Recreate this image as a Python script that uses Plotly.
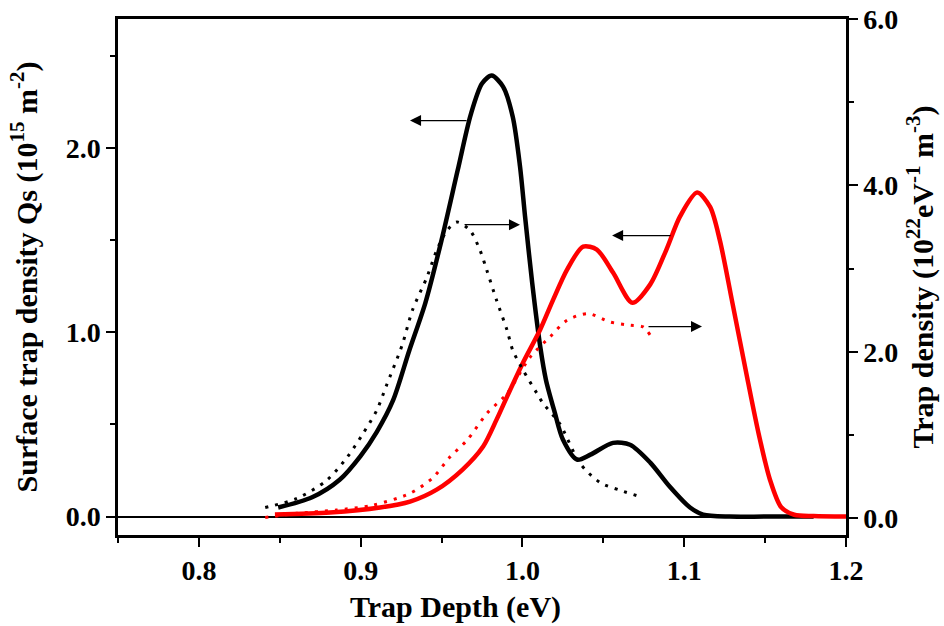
import plotly.graph_objects as go

# Black solid: surface trap density Qs (left axis)
qs_black_x = [0.849, 0.870, 0.887, 0.900, 0.910, 0.920, 0.930, 0.940, 0.950, 0.960, 0.968,
              0.975, 0.981, 0.988, 0.994, 0.9985, 1.0016, 1.006, 1.011, 1.0145, 1.020, 1.025, 1.0338,
              1.042, 1.056, 1.0665, 1.079, 1.091, 1.1036, 1.1117, 1.128, 1.15, 1.18]
qs_black_y = [0.049, 0.105, 0.20, 0.33, 0.46, 0.63, 0.90, 1.16, 1.50, 1.88, 2.18,
              2.35, 2.393, 2.333, 2.17, 1.90, 1.63, 1.27, 0.922, 0.743, 0.564, 0.418, 0.309,
              0.336, 0.40, 0.39, 0.293, 0.163, 0.049, 0.011, 0.0, 0.0, 0.0]

# Black dotted: trap density (right axis)
td_black_x = [0.841, 0.8607, 0.879, 0.8916, 0.9015, 0.910, 0.916, 0.9256, 0.932, 0.941, 0.947, 0.9534,
              0.9596, 0.9676, 0.9738, 0.978, 0.984, 0.9905, 0.994, 1.0004, 1.009, 1.0128, 1.023,
              1.0356, 1.048, 1.060, 1.0746]
td_black_y = [0.13, 0.24, 0.457, 0.733, 1.02, 1.30, 1.60, 2.08, 2.50, 2.90, 3.22, 3.46,
              3.56, 3.46, 3.22, 2.98, 2.62, 2.26, 2.02, 1.78, 1.50, 1.38, 1.14,
              0.66, 0.43, 0.34, 0.25]

# Red solid: surface trap density Qs (left axis)
qs_red_x = [0.847, 0.881, 0.912, 0.9305, 0.947, 0.963, 0.9757, 0.984, 0.9905, 1.0004, 1.011, 1.019,
            1.0276, 1.0375, 1.046, 1.056, 1.068, 1.079, 1.089, 1.0975, 1.108, 1.116, 1.122, 1.130,
            1.139, 1.146, 1.153, 1.160, 1.168, 1.18, 1.2]
qs_red_y = [0.011, 0.022, 0.049, 0.081, 0.146, 0.255, 0.38, 0.526, 0.651, 0.836, 1.015, 1.177,
            1.34, 1.465, 1.449, 1.324, 1.16, 1.26, 1.449, 1.63, 1.758, 1.68, 1.50, 1.15,
            0.75, 0.45, 0.20, 0.05, 0.01, 0.003, 0.0]

# Red dotted: trap density (right axis)
td_red_x = [0.841, 0.8607, 0.885, 0.907, 0.9305, 0.9447, 0.955, 0.9658, 0.978, 0.9905, 1.0047, 1.017,
            1.0276, 1.0406, 1.054, 1.0665, 1.0746, 1.079]
td_red_y = [0.01, 0.06, 0.10, 0.156, 0.30, 0.49, 0.733, 0.94, 1.26, 1.50, 1.935, 2.18,
            2.38, 2.46, 2.36, 2.32, 2.30, 2.20]

# Arrows (head x, tail x, y on left axis)
arrow_head_x = [0.9305, 0.9985, 1.0554, 1.111]
arrow_tail_x = [0.9664, 0.9633, 1.0925, 1.077]
arrow_y = [2.149, 1.584, 1.525, 1.031]

FONT = "Liberation Serif, Times New Roman, serif"

fig = go.Figure()
fig.add_trace(go.Scatter(x=td_black_x, y=td_black_y, yaxis="y2", mode="lines",
                         line=dict(color="black", width=3, dash="3px,7px", shape="spline", smoothing=0.8)))
fig.add_trace(go.Scatter(x=td_red_x, y=td_red_y, yaxis="y2", mode="lines",
                         line=dict(color="red", width=3, dash="3px,7px", shape="spline", smoothing=0.8)))
fig.add_trace(go.Scatter(x=qs_black_x, y=qs_black_y, mode="lines",
                         line=dict(color="black", width=4.5, shape="spline", smoothing=0.8)))
fig.add_trace(go.Scatter(x=qs_red_x, y=qs_red_y, mode="lines",
                         line=dict(color="red", width=4.5, shape="spline", smoothing=0.8)))

for hx, tx, yy in zip(arrow_head_x, arrow_tail_x, arrow_y):
    fig.add_annotation(x=hx, y=yy, ax=tx, ay=yy, xref="x", yref="y", axref="x", ayref="y",
                       text="", showarrow=True, arrowhead=2, arrowsize=1.7, arrowwidth=1.3,
                       arrowcolor="black")

tickfont = dict(family=FONT, size=28, color="black", weight="bold")
titlefont = dict(family=FONT, size=30, color="black", weight="bold")

# x-axis title (placed as in the reference, slightly left of centre)
fig.add_annotation(text="Trap Depth (eV)", xref="paper", yref="paper", x=0.464, y=-0.14,
                   xanchor="center", yanchor="middle", showarrow=False, font=titlefont)

fig.update_layout(
    width=944, height=626,
    margin=dict(l=118, r=98, t=19, b=91, autoexpand=False),
    paper_bgcolor="white", plot_bgcolor="white",
    showlegend=False,
    font=dict(family=FONT, color="black"),
    xaxis=dict(range=[0.75, 1.2], tick0=0.8, dtick=0.1, tickformat=".1f", automargin=False,
               ticks="outside", ticklen=9, tickwidth=2, tickcolor="black",
               minor=dict(ticks="outside", ticklen=5, tickwidth=2, dtick=0.05, tick0=0.75, tickcolor="black"),
               showline=True, linewidth=2.5, linecolor="black", mirror=True,
               showgrid=False, zeroline=False, tickfont=tickfont),
    yaxis=dict(range=[-0.1, 2.7], tick0=0, dtick=1, tickformat=".1f", automargin=False,
               ticks="outside", ticklen=9, tickwidth=2, tickcolor="black",
               minor=dict(ticks="outside", ticklen=5, tickwidth=2, dtick=0.5, tick0=0, tickcolor="black"),
               showline=True, linewidth=2.5, linecolor="black", mirror=False,
               showgrid=False, zeroline=True, zerolinecolor="black", zerolinewidth=2,
               tickfont=tickfont,
               title=dict(text="Surface trap density Qs (10<sup>15</sup> m<sup>-2</sup>)", font=titlefont, standoff=20)),
    yaxis2=dict(range=[-0.2, 6.0], tick0=0, dtick=2, tickformat=".1f", overlaying="y", side="right",
                automargin=False,
                ticks="outside", ticklen=9, tickwidth=2, tickcolor="black",
                minor=dict(ticks="outside", ticklen=5, tickwidth=2, dtick=1, tick0=0, tickcolor="black"),
                showline=True, linewidth=2.5, linecolor="black",
                showgrid=False, zeroline=False, tickfont=tickfont,
                title=dict(text="Trap density (10<sup>22</sup>eV<sup>-1</sup> m<sup>-3</sup>)", font=titlefont, standoff=15)),
)

fig.write_html("out.html")
